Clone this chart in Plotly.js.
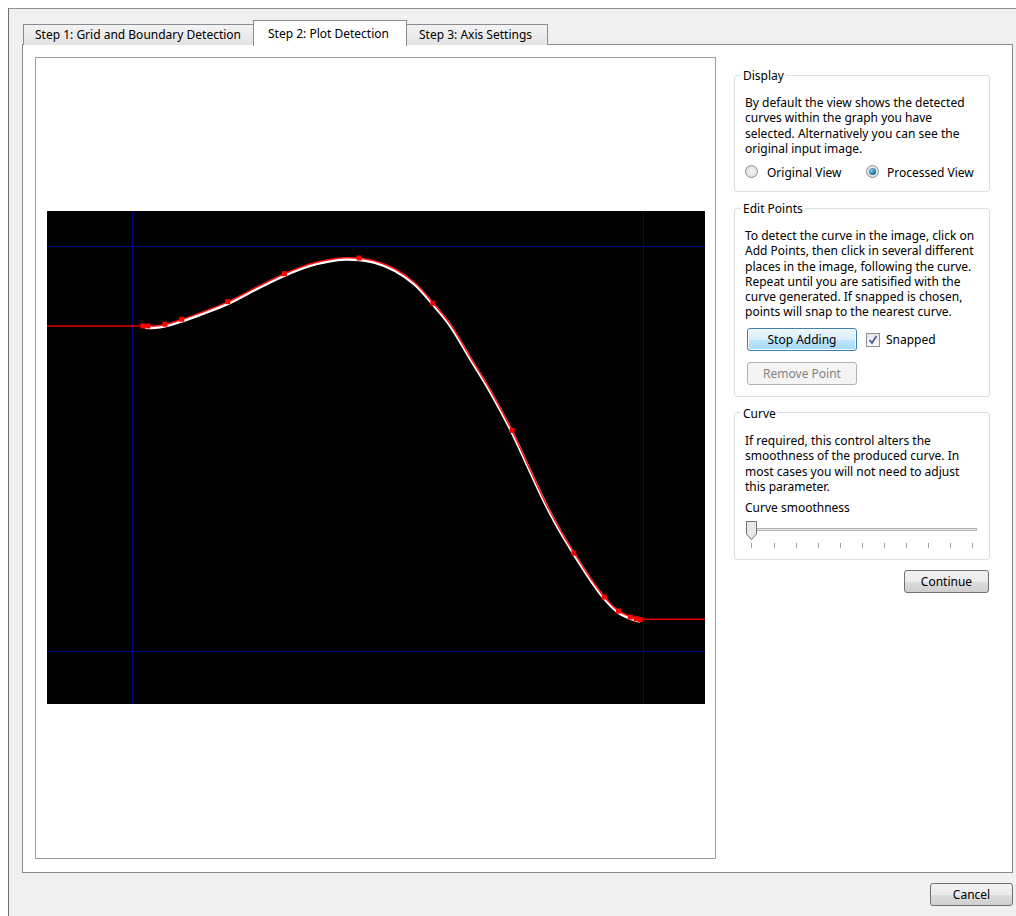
<!DOCTYPE html>
<html>
<head>
<meta charset="utf-8">
<script src="https://cdn.plot.ly/plotly-3.0.1.min.js"></script>
<style>
  html, body { margin: 0; padding: 0; background: #ffffff; width: 1016px; height: 916px; overflow: hidden; }
  body { position: relative; font-family: "Noto Sans", "Open Sans", sans-serif; font-size: 12px; color: #000; }
  .abs { position: absolute; box-sizing: border-box; }
  .outer { left: 8px; top: 8px; width: 1010px; height: 910px; background: #f0f0f0; border-left: 1px solid #6d6f75; border-top: 1px solid #8f9297; }
  .pane { left: 22px; top: 44px; width: 991px; height: 829px; background: #ffffff; border: 1px solid #898c95; }
  .tab { height: 21px; top: 24px; border: 1px solid #898c95; border-bottom: none; background: linear-gradient(#f3f3f3, #e3e3e3); white-space: nowrap; line-height: 20px; }
  .tabsel { top: 20px; height: 26px; background: #ffffff; border: 1px solid #898c95; border-bottom: none; line-height: 26px; }
  .canvasbox { left: 35px; top: 57px; width: 681px; height: 802px; background: #fff; border: 1px solid #9d9fa6; }
  .group { border: 1px solid #d5dfe5; border-radius: 3px; background: #fff; }
  .gtitle { background: #fff; padding: 0 2px; line-height: 16px; white-space: nowrap; }
  .txt { line-height: 15.3px; white-space: nowrap; letter-spacing: 0; }
  .btn { border: 1px solid #707070; border-radius: 3px; background: linear-gradient(#f2f2f2 0%, #ebebeb 50%, #dddddd 51%, #cfcfcf 100%); text-align: center; white-space: nowrap; }
  .btnfocus { border: 1px solid #3c7fb1; background: linear-gradient(#eaf6fd 0%, #d9f0fc 50%, #bee6fd 51%, #a7d9f5 100%); box-shadow: inset 0 0 0 1px #ffffff; }
  .btndis { border: 1px solid #adb2b5; background: #f4f4f4; color: #838383; }
  .radio { width: 13px; height: 13px; border-radius: 50%; border: 1px solid #8e8f8f; background: radial-gradient(#f4f4f4, #d8d8d8); }
  .radiodot { width: 7px; height: 7px; border-radius: 50%; background: radial-gradient(circle at 35% 35%, #7fd0f5, #0d6a98 70%, #083e5a); }
  .tick { width: 1px; height: 5px; background: #a0a0a0; top: 543px; }
</style>
</head>
<body>
<div class="abs outer"></div>
<div class="abs pane"></div>

<div class="abs tab" style="left:23px; width:231px;"><span class="abs" style="left:11px; top:0;">Step 1: Grid and Boundary Detection</span></div>
<div class="abs tab" style="left:406px; width:142px;"><span class="abs" style="left:12px; top:0;">Step 3: Axis Settings</span></div>
<div class="abs tabsel" style="left:253px; width:154px;"><span class="abs" style="left:14px; top:0; line-height:26px;">Step 2: Plot Detection</span></div>

<div class="abs canvasbox"></div>
<div id="plot" class="abs" style="left:47px; top:211px; width:658px; height:493px;"></div>

<!-- Display group -->
<div class="abs group" style="left:734px; top:75px; width:256px; height:117px;"></div>
<div class="abs gtitle" style="left:741px; top:68px;">Display</div>
<div class="abs txt" style="left:745px; top:95px;">By default the view shows the detected<br>curves within the graph you have<br>selected. Alternatively you can see the<br>original input image.</div>
<div class="abs radio" style="left:745px; top:165px;"></div>
<div class="abs txt" style="left:767px; top:165px;">Original View</div>
<div class="abs radio" style="left:866px; top:165px;"></div>
<div class="abs radiodot" style="left:869px; top:168px;"></div>
<div class="abs txt" style="left:887px; top:165px;">Processed View</div>

<!-- Edit Points group -->
<div class="abs group" style="left:734px; top:208px; width:256px; height:189px;"></div>
<div class="abs gtitle" style="left:741px; top:201px;">Edit Points</div>
<div class="abs txt" style="left:745px; top:228px;">To detect the curve in the image, click on<br>Add Points, then click in several different<br>places in the image, following the curve.<br>Repeat until you are satisified with the<br>curve generated. If snapped is chosen,<br>points will snap to the nearest curve.</div>
<div class="abs btn btnfocus" style="left:747px; top:328px; width:110px; height:23px; line-height:21px;">Stop Adding</div>
<div class="abs" style="left:866px; top:333px; width:14px; height:14px; border:1px solid #8e8f8f; background:linear-gradient(#e8e8e8,#fafafa); box-sizing:border-box;"></div>
<svg class="abs" style="left:866px; top:333px;" width="14" height="14"><polyline points="3.5,7 6,10 10.5,3" fill="none" stroke="#4a5f97" stroke-width="1.8"/></svg>
<div class="abs txt" style="left:886px; top:332px;">Snapped</div>
<div class="abs btn btndis" style="left:747px; top:362px; width:110px; height:23px; line-height:21px;">Remove Point</div>

<!-- Curve group -->
<div class="abs group" style="left:734px; top:412px; width:256px; height:148px;"></div>
<div class="abs gtitle" style="left:741px; top:406px;">Curve</div>
<div class="abs txt" style="left:745px; top:433px;">If required, this control alters the<br>smoothness of the produced curve. In<br>most cases you will not need to adjust<br>this parameter.</div>
<div class="abs txt" style="left:745px; top:500px;">Curve smoothness</div>
<div class="abs" style="left:748px; top:528px; width:229px; height:3px; border:1px solid #b0b0b0; background:#e7eaea; box-sizing:border-box;"></div>
<svg class="abs" style="left:745px; top:520px;" width="13" height="21"><path d="M1.5,1.5 H11.5 V14 L6.5,19.5 L1.5,14 Z" fill="#e9e9e9" stroke="#707070" stroke-width="1"/></svg>
<div id="ticks"></div>
<div class="abs btn" style="left:904px; top:570px; width:85px; height:23px; line-height:21px;">Continue</div>

<div class="abs btn" style="left:930px; top:883px; width:83px; height:23px; line-height:21px;">Cancel</div>

<script>
// Data in calibration units: grid lines are at 0 and 100 on both axes
var gridX = [0, 100];
var gridY = [0, 100];
var xRange = [-16.732, 112.035];
var yRange = [-12.963, 108.765];

// fitted curve (red)
var curveX = [2.45, 4.40, 6.36, 9.69, 13.21, 18.70, 23.98, 29.66, 34.75, 38.66, 41.60, 44.34, 47.47, 51.39, 55.30, 58.83, 62.16, 66.07, 69.99, 74.29, 77.82, 80.76, 83.69, 86.43, 89.57, 92.31, 95.05, 97.39, 99.35];
var curveY = [80.38, 80.38, 80.76, 81.99, 83.59, 86.31, 89.76, 93.22, 95.68, 96.79, 97.21, 97.09, 96.42, 94.45, 91.00, 86.06, 80.88, 72.74, 64.60, 54.48, 44.86, 36.96, 30.06, 24.38, 18.21, 13.52, 10.07, 8.59, 7.85];

// detected curve (white), sits about a pixel lower than the fitted one
var detectedX = [2.45, 4.40, 6.36, 9.69, 13.21, 18.70, 23.98, 29.66, 34.75, 38.66, 41.60, 44.34, 47.47, 51.39, 55.30, 58.83, 62.16, 66.07, 69.99, 74.29, 77.82, 80.76, 83.69, 86.43, 89.57, 92.31, 95.05, 97.39, 99.35];
var detectedY = [80.00, 79.98, 80.34, 81.58, 83.18, 85.90, 89.35, 92.82, 95.28, 96.40, 96.83, 96.70, 96.02, 94.05, 90.60, 85.66, 80.48, 72.34, 64.20, 54.08, 44.46, 36.56, 29.66, 23.98, 17.81, 13.12, 9.67, 8.19, 7.45];

// user-added points
var pointX = [2.06, 3.03, 6.36, 9.63, 18.64, 29.72, 44.34, 58.77, 74.29, 86.37, 92.31, 95.11, 97.40, 98.57, 99.35];
var pointY = [80.38, 80.38, 80.81, 82.04, 86.38, 93.29, 97.16, 85.99, 54.60, 24.30, 13.45, 9.99, 8.51, 8.09, 7.85];

// flat extensions outside the curve
var leftTailX = [-16.732, 2.06];
var leftTailY = [80.38, 80.38];
var rightTailX = [99.35, 112.035];
var rightTailY = [7.97, 7.97];

// slider tick positions (11 ticks)
var sliderTicks = [751, 774, 796, 818, 840, 862, 884, 906, 928, 950, 972];
var tickHost = document.getElementById('ticks');
sliderTicks.forEach(function (t) {
  var d = document.createElement('div');
  d.className = 'abs tick';
  d.style.left = t + 'px';
  tickHost.appendChild(d);
});

var traces = [
  { x: detectedX, y: detectedY, mode: 'lines', line: { color: '#ffffff', width: 3, shape: 'spline' }, hoverinfo: 'skip' },
  { x: leftTailX, y: leftTailY, mode: 'lines', line: { color: '#e00000', width: 1.4 }, hoverinfo: 'skip' },
  { x: rightTailX, y: rightTailY, mode: 'lines', line: { color: '#e00000', width: 1.4 }, hoverinfo: 'skip' },
  { x: curveX, y: curveY, mode: 'lines', line: { color: '#ff1010', width: 1.5, shape: 'spline' }, hoverinfo: 'skip' },
  { x: pointX, y: pointY, mode: 'markers', marker: { color: '#ff0000', size: 5, symbol: 'square' }, hoverinfo: 'skip' }
];

var axisCommon = {
  showticklabels: false,
  ticks: '',
  showgrid: true,
  gridcolor: '#000088',
  gridwidth: 1,
  zeroline: false,
  showline: true,
  linecolor: '#555555',
  linewidth: 1,
  mirror: true,
  fixedrange: true
};

var layout = {
  width: 658,
  height: 493,
  margin: { l: 0, r: 0, t: 0, b: 0, pad: 0 },
  paper_bgcolor: '#000000',
  plot_bgcolor: '#000000',
  showlegend: false,
  xaxis: Object.assign({}, axisCommon, { range: xRange, tickvals: gridX }),
  yaxis: Object.assign({}, axisCommon, { range: yRange, tickvals: gridY })
};

Plotly.newPlot('plot', traces, layout, { staticPlot: true, displayModeBar: false });
</script>
</body>
</html>
